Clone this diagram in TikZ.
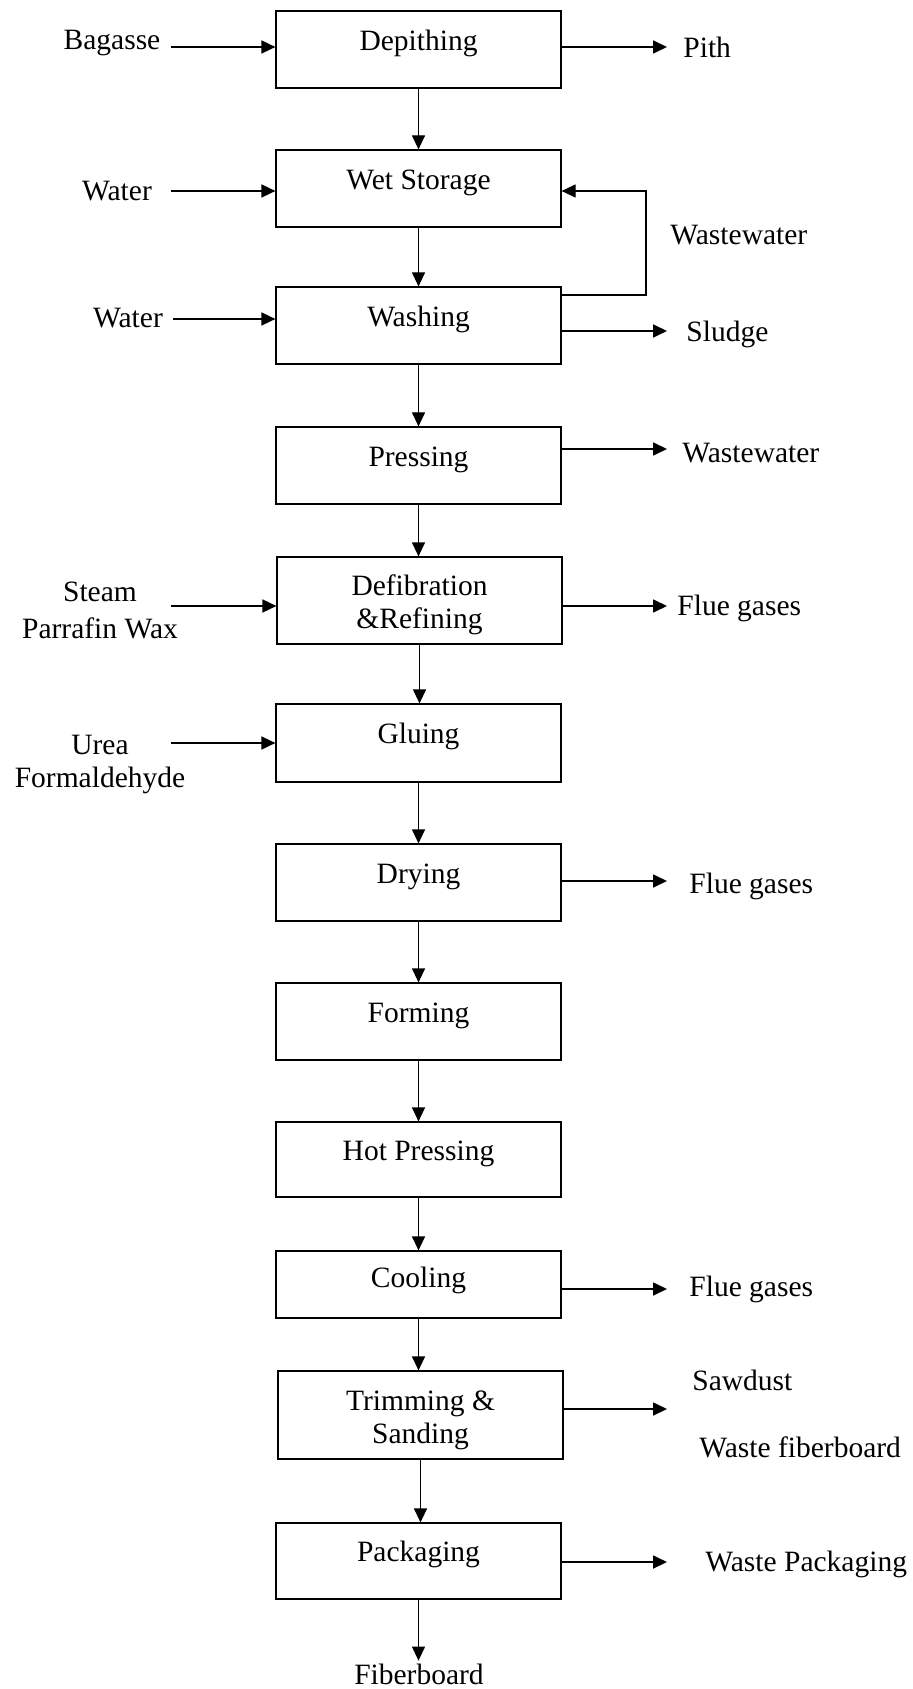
\documentclass[tikz,border=0pt]{standalone}
\usepackage{fontspec}
\setmainfont{Liberation Serif}
\usetikzlibrary{arrows.meta}

\begin{document}
\begin{tikzpicture}[x=0.5pt,y=-0.5pt,
        font=\fontsize{14.75}{16.5}\selectfont,
        procbox/.style={draw, line width=0.6pt, inner sep=0pt, minimum width=142.5pt, minimum height=38.5pt},
        onerow/.style={procbox, text height=0.7em, text depth=0.62em},
        tworow/.style={procbox, align=center, text height=31.5pt},
        lbl/.style={inner sep=0pt, text height=0.68em, text depth=0.22em, yshift=-3pt},
        flow/.style={-{Triangle[length=7pt,width=6.5pt]}, line width=0.6pt},
        side/.style={flow, line width=0.85pt}]
        \useasboundingbox (0,0) rectangle (913,1689);

        \node[onerow] (depith) at (418.5,49.5) {Depithing};
        \node[onerow] (wetstore) at (418.5,188.5) {Wet Storage};
        \node[onerow] (wash) at (418.5,325.5) {Washing};
        \node[onerow] (press) at (418.5,465.5) {Pressing};
        \node[tworow, minimum height=43.5pt] (defib) at (419.5,600.5) {Defibration\\\&Refining};
        \node[onerow, minimum height=39pt] (glue) at (418.5,743) {Gluing};
        \node[onerow] (dry) at (418.5,882.5) {Drying};
        \node[onerow] (form) at (418.5,1021.5) {Forming};
        \node[onerow, minimum height=37.5pt] (hotpress) at (418.5,1159.5) {Hot Pressing};
        \node[onerow, minimum height=33.5pt, text depth=0.41em] (cool) at (418.5,1284.5) {Cooling};
        \node[tworow, minimum height=44pt] (trim) at (420.5,1415) {Trimming \&\\Sanding};
        \node[onerow, minimum height=38pt] (pack) at (418.5,1561) {Packaging};
        \node[lbl] (fiber) at (419,1674) {Fiberboard};

        \draw[flow] (depith.south) -- (depith.south |- wetstore.north);
        \draw[flow] (wetstore.south) -- (wetstore.south |- wash.north);
        \draw[flow] (wash.south) -- (wash.south |- press.north);
        \draw[flow] (press.south) -- (press.south |- defib.north);
        \draw[flow] (defib.south) -- (defib.south |- glue.north);
        \draw[flow] (glue.south) -- (glue.south |- dry.north);
        \draw[flow] (dry.south) -- (dry.south |- form.north);
        \draw[flow] (form.south) -- (form.south |- hotpress.north);
        \draw[flow] (hotpress.south) -- (hotpress.south |- cool.north);
        \draw[flow] (cool.south) -- (cool.south |- trim.north);
        \draw[flow] (trim.south) -- (trim.south |- pack.north);
        \draw[flow, shorten >=5pt] (pack.south) -- (pack.south |- fiber.north);

        \node[lbl] (bagasse) at (112,39) {Bagasse};
        \node[lbl] (water) at (117,190) {Water};
        \node[lbl] (waterb) at (128,317) {Water};
        \node[align=center] (steam) at (100,610) {Steam\\[2pt]Parrafin Wax};
        \node[align=center] (urea) at (100,765) {Urea\\Formaldehyde};

        \coordinate (bagin) at (171,47);
        \coordinate (waterin) at (171,191);
        \coordinate (waterinb) at (173,319);
        \coordinate (steamin) at (171,606);
        \coordinate (ureain) at (171,743);
        \draw[side] (bagin) -- (bagin -| depith.west);
        \draw[side] (waterin) -- (waterin -| wetstore.west);
        \draw[side] (waterinb) -- (waterinb -| wash.west);
        \draw[side] (steamin) -- (steamin -| defib.west);
        \draw[side] (ureain) -- (ureain -| glue.west);

        \coordinate (loopdown) at (646,295);
        \coordinate (loopup) at (646,191);
        \draw[flow] (loopdown -| wash.east) -- (loopdown) -- (loopup) -- (loopup -| wetstore.east);
        \node[lbl, anchor=west] (wastewater) at (670,234) {Wastewater};

        \node[lbl, anchor=west] (pith) at (683,47) {Pith};
        \node[lbl, anchor=west] (sludge) at (686,331) {Sludge};
        \node[lbl, anchor=west] (wastewaterb) at (682,452) {Wastewater};
        \node[lbl, anchor=west] (fluea) at (677,605) {Flue gases};
        \node[lbl, anchor=west] (flueb) at (689,883) {Flue gases};
        \node[lbl, anchor=west] (fluec) at (689,1286) {Flue gases};
        \node[lbl, anchor=west] (sawdust) at (692,1380) {Sawdust};
        \node[lbl, anchor=west] (wastefiber) at (699,1447) {Waste fiberboard};
        \node[lbl, anchor=west] (wastepack) at (705,1561) {Waste Packaging};

        \coordinate (pithout) at (667,47);
        \coordinate (sludgeout) at (667,331);
        \coordinate (pressout) at (667,449);
        \coordinate (defibout) at (667,606);
        \coordinate (dryout) at (667,881);
        \coordinate (coolout) at (667,1289);
        \coordinate (trimout) at (667,1409);
        \coordinate (packout) at (667,1562);
        \draw[side] (pithout -| depith.east) -- (pithout);
        \draw[side] (sludgeout -| wash.east) -- (sludgeout);
        \draw[side] (pressout -| press.east) -- (pressout);
        \draw[side] (defibout -| defib.east) -- (defibout);
        \draw[side] (dryout -| dry.east) -- (dryout);
        \draw[side] (coolout -| cool.east) -- (coolout);
        \draw[side] (trimout -| trim.east) -- (trimout);
        \draw[side] (packout -| pack.east) -- (packout);
\end{tikzpicture}
\end{document}
